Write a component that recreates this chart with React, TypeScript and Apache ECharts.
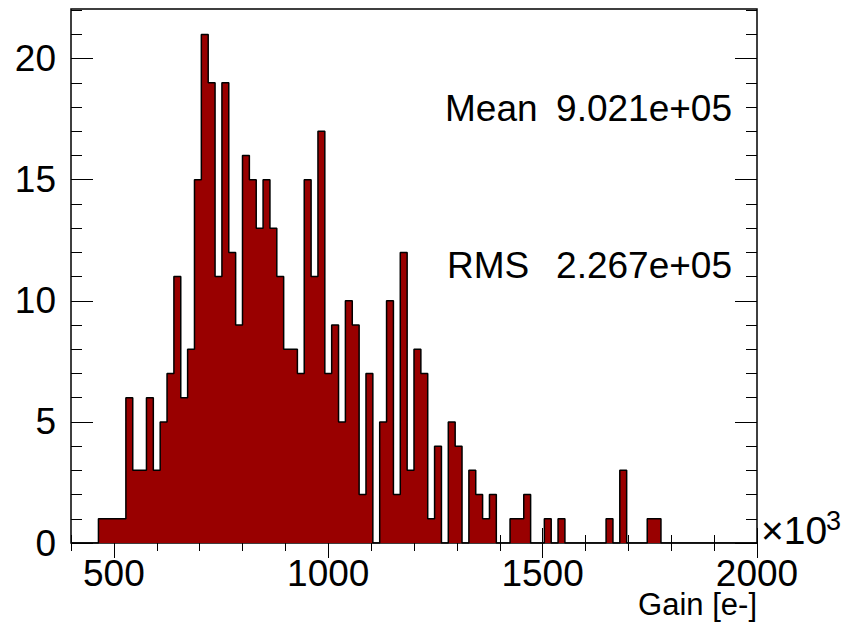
import React, { useEffect, useRef } from "react";
import * as echarts from "echarts";

// Gain histogram: 100 bins of 16 (x10^3 e-) from 400 to 2000
const binLow = 400;
const binHigh = 2000;
const binWidth = 16;
const counts: number[] = [
  0, 0, 0, 0, 1, 1, 1, 1, 6, 3,
  3, 6, 3, 5, 7, 11, 6, 8, 15, 21,
  19, 11, 19, 12, 9, 16, 15, 13, 15, 13,
  11, 8, 8, 7, 15, 11, 17, 7, 9, 5,
  10, 9, 2, 7, 0, 5, 10, 2, 12, 3,
  8, 7, 1, 4, 0, 5, 4, 0, 3, 2,
  1, 2, 0, 0, 1, 1, 2, 0, 0, 1,
  0, 1, 0, 0, 0, 0, 0, 0, 1, 0,
  3, 0, 0, 0, 1, 1, 0, 0, 0, 0,
  0, 0, 0, 0, 0, 0, 0, 0, 0, 0,
];
const yMax = 22.05;
const xMajorTicks = [500, 1000, 1500, 2000];
const yMajorTicks = [0, 5, 10, 15, 20];
const xMinorStep = 100;
const yMinorStep = 1;
const statLabels = ["Mean", "RMS"];
const statValues = ["9.021e+05", "2.267e+05"];

const FONT = "'Liberation Sans', Arial, Helvetica, sans-serif";

function range(from: number, to: number, step: number): number[] {
  const out: number[] = [];
  for (let v = from; v <= to + 1e-9; v += step) out.push(v);
  return out;
}

export default function App() {
  const ref = useRef<HTMLDivElement>(null);

  useEffect(() => {
    if (!ref.current) return;
    const chart = echarts.init(ref.current, null, { renderer: "svg" });

    // Step outline points: left edge of each bin, closed at the upper edge
    const stepData: number[][] = counts.map((c, i) => [binLow + i * binWidth, c]);
    stepData.push([binHigh, 0]);

    const xMinor = range(binLow, binHigh, xMinorStep);
    const yMinor = range(0, Math.floor(yMax), yMinorStep);

    const xAxisBase = {
      type: "value" as const,
      min: binLow,
      max: binHigh,
      gridIndex: 0,
      axisLine: { show: false },
      splitLine: { show: false },
    };
    const yAxisBase = {
      type: "value" as const,
      min: 0,
      max: yMax,
      gridIndex: 0,
      axisLine: { show: false },
      splitLine: { show: false },
    };
    const tickStyle = { color: "#000", width: 1 };

    const text = (
      str: string,
      x: number,
      y: number,
      size: number,
      align: "left" | "right" = "left"
    ) => ({
      type: "text",
      x,
      y,
      z: 10,
      style: {
        text: str,
        fontSize: size,
        fontFamily: FONT,
        fill: "#000",
        align,
        verticalAlign: "middle",
      },
    });

    chart.setOption({
      animation: false,
      backgroundColor: "#fff",
      grid: {
        left: 71,
        top: 9,
        width: 686,
        height: 534,
        show: true,
        borderColor: "#000",
        borderWidth: 1.5,
        backgroundColor: "transparent",
      },
      xAxis: [
        {
          ...xAxisBase,
          position: "bottom",
          axisTick: { show: true, inside: true, length: 15, customValues: xMajorTicks, lineStyle: tickStyle },
          axisLabel: {
            show: true,
            customValues: xMajorTicks,
            formatter: (v: number) => String(v),
            margin: 12,
            color: "#000",
            fontSize: 37,
            fontFamily: FONT,
            showMinLabel: true,
            showMaxLabel: true,
          },
        },
        {
          ...xAxisBase,
          position: "bottom",
          axisTick: { show: true, inside: true, length: 8, customValues: xMinor, lineStyle: tickStyle },
          axisLabel: { show: false },
        },
        {
          ...xAxisBase,
          position: "top",
          axisTick: { show: true, inside: true, length: 15, customValues: xMajorTicks, lineStyle: tickStyle },
          axisLabel: { show: false },
        },
        {
          ...xAxisBase,
          position: "top",
          axisTick: { show: true, inside: true, length: 8, customValues: xMinor, lineStyle: tickStyle },
          axisLabel: { show: false },
        },
      ],
      yAxis: [
        {
          ...yAxisBase,
          position: "left",
          axisTick: { show: true, inside: true, length: 22, customValues: yMajorTicks, lineStyle: tickStyle },
          axisLabel: {
            show: true,
            customValues: yMajorTicks,
            formatter: (v: number) => String(v),
            margin: 15,
            color: "#000",
            fontSize: 37,
            fontFamily: FONT,
          },
        },
        {
          ...yAxisBase,
          position: "left",
          axisTick: { show: true, inside: true, length: 11, customValues: yMinor, lineStyle: tickStyle },
          axisLabel: { show: false },
        },
        {
          ...yAxisBase,
          position: "right",
          axisTick: { show: true, inside: true, length: 22, customValues: yMajorTicks, lineStyle: tickStyle },
          axisLabel: { show: false },
        },
        {
          ...yAxisBase,
          position: "right",
          axisTick: { show: true, inside: true, length: 11, customValues: yMinor, lineStyle: tickStyle },
          axisLabel: { show: false },
        },
      ],
      series: [
        {
          type: "line",
          name: "Gain",
          xAxisIndex: 0,
          yAxisIndex: 0,
          data: stepData,
          step: "end",
          symbol: "none",
          lineStyle: { color: "#000", width: 1.5 },
          areaStyle: { color: "#990000", opacity: 1 },
          z: 1,
        },
      ],
      graphic: [
        text(statLabels[0], 445, 108.5, 37),
        text(statValues[0], 732, 108.5, 37, "right"),
        text(statLabels[1], 447, 265.5, 37),
        text(statValues[1], 732, 265.5, 37, "right"),
        text("×10", 761, 530, 39),
        text("3", 826, 521, 27),
        text("Gain [e-]", 757, 604, 31, "right"),
      ],
    });

    return () => chart.dispose();
  }, []);

  return (
    <div
      ref={ref}
      style={{ position: "fixed", left: 0, top: 0, width: 844, height: 626, background: "#fff" }}
    />
  );
}
